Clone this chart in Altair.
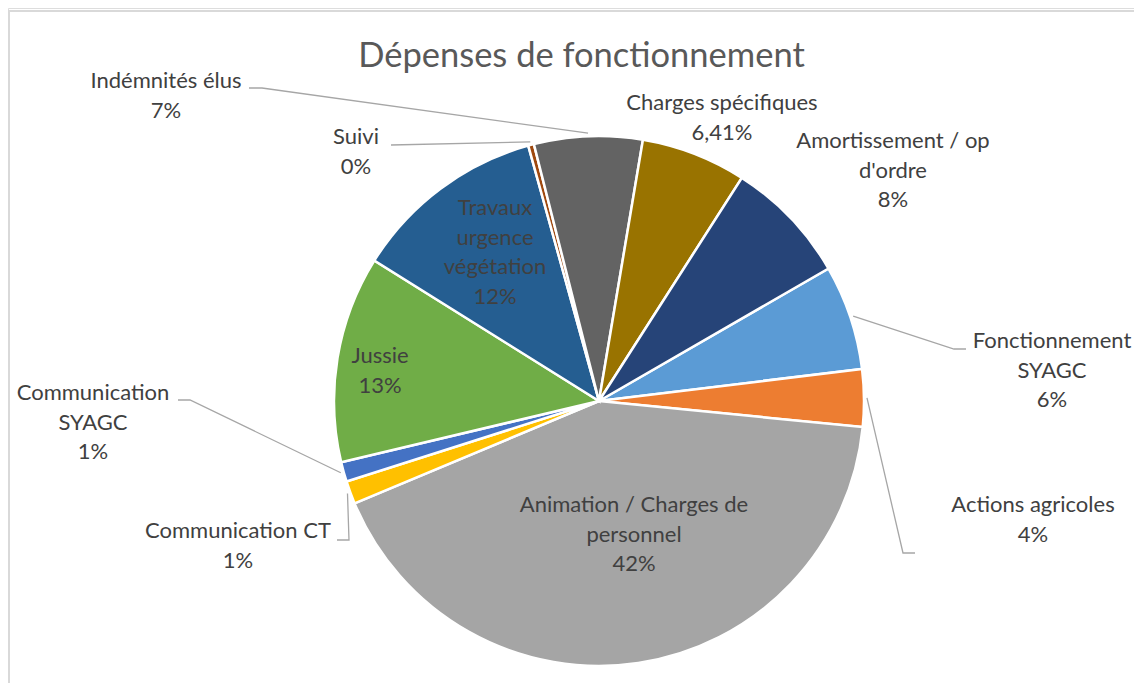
import math
import altair as alt
import pandas as pd

# ---- data (Excel order) ----
categories = ["Fonctionnement SYAGC", "Actions agricoles", "Animation / Charges de personnel",
              "Communication CT", "Communication SYAGC", "Jussie", "Travaux urgence végétation",
              "Suivi", "Indémnités élus", "Charges spécifiques", "Amortissement / op d'ordre"]
values = [6.4, 3.5, 42.1, 1.4, 1.2, 12.6, 11.8, 0.35, 6.6, 6.41, 7.6]
pct_labels = ["6%", "4%", "42%", "1%", "1%", "13%", "12%", "0%", "7%", "6,41%", "8%"]
wrapped = ["Fonctionnement\nSYAGC", "Actions agricoles", "Animation / Charges de\npersonnel",
           "Communication CT", "Communication\nSYAGC", "Jussie", "Travaux\nurgence\nvégétation",
           "Suivi", "Indémnités élus", "Charges spécifiques", "Amortissement / op\nd'ordre"]
colors = ["#5B9BD5", "#ED7D31", "#A5A5A5", "#FFC000", "#4472C4", "#70AD47",
          "#255E91", "#9E480E", "#636363", "#997300", "#264478"]

# ---- layout ----
W, H = 1126, 675
CX, CY, R = 591, 393, 265
START = math.radians(60)
FONT = "Lato"
TXT = "#404040"

# x centre and y of the first text line, per label
label_pos = {
    "Fonctionnement SYAGC": (1044, 333),
    "Actions agricoles": (1025, 497),
    "Animation / Charges de personnel": (626, 497),
    "Communication CT": (230, 523),
    "Communication SYAGC": (85, 385),
    "Jussie": (372, 348),
    "Travaux urgence végétation": (487, 200),
    "Suivi": (348, 129),
    "Indémnités élus": (158, 73),
    "Charges spécifiques": (714, 95),
    "Amortissement / op d'ordre": (885, 133),
}
leader_pts = {
    "Indémnités élus": [(241, 80), (254, 80)],
    "Suivi": [(383, 137)],
    "Fonctionnement SYAGC": [(958, 341), (946, 341)],
    "Actions agricoles": [(907, 545), (895, 545)],
    "Communication CT": [(329, 532), (341, 532)],
    "Communication SYAGC": [(170, 392), (182, 392)],
}

df = pd.DataFrame({"cat": categories, "value": values, "idx": range(len(values))})

total = sum(values)
lab_rows, line_rows = [], []
cum = 0.0
for i, (c, v) in enumerate(zip(categories, values)):
    mid = START + 2 * math.pi * (cum + v / 2) / total
    cum += v
    lx, ly = label_pos[c]
    lab_rows.append({"cat": c, "text": wrapped[i] + "\n" + pct_labels[i], "x": lx, "y": ly})
    if c in leader_pts:
        pts = leader_pts[c] + [(CX + (R + 3) * math.sin(mid), CY - (R + 3) * math.cos(mid))]
        for k, (px, py) in enumerate(pts):
            line_rows.append({"cat": c, "k": k, "x": px, "y": py})

labels_df = pd.DataFrame(lab_rows)
lines_df = pd.DataFrame(line_rows)

pie = alt.Chart(df).mark_arc(radius=R, stroke="white", strokeWidth=2.5).encode(
    theta=alt.Theta("value:Q", stack=True, scale=alt.Scale(range=[START, START + 2 * math.pi])),
    color=alt.Color("cat:N", scale=alt.Scale(domain=categories, range=colors), legend=None),
    order=alt.Order("idx:Q"),
    x=alt.value(CX),
    y=alt.value(CY),
)

leaders = alt.Chart(lines_df).mark_line(color="#A6A6A6", strokeWidth=1.3).encode(
    x=alt.X("x:Q", scale=None, axis=None),
    y=alt.Y("y:Q", scale=None, axis=None),
    detail="cat:N",
    order="k:Q",
)

texts = alt.Chart(labels_df).mark_text(
    font=FONT, fontSize=22, color=TXT, align="center", baseline="middle",
    lineBreak="\n", lineHeight=29.7,
).encode(
    x=alt.X("x:Q", scale=None, axis=None),
    y=alt.Y("y:Q", scale=None, axis=None),
    text="text:N",
)

title = alt.Chart(pd.DataFrame({"t": ["Dépenses de fonctionnement"]})).mark_text(
    font=FONT, fontSize=34.5, color="#595959", align="center", baseline="middle",
).encode(x=alt.value(573.5), y=alt.value(49), text="t:N")

frame_top = alt.Chart(pd.DataFrame({"a": [0]})).mark_rule(color="#D9D9D9", strokeWidth=2).encode(
    x=alt.value(0), x2=alt.value(W), y=alt.value(3))
frame_left = alt.Chart(pd.DataFrame({"a": [0]})).mark_rule(color="#D9D9D9", strokeWidth=2).encode(
    x=alt.value(1), y=alt.value(3), y2=alt.value(H))

chart = alt.layer(frame_top, frame_left, pie, leaders, texts, title).properties(
    width=W, height=H, padding=0, autosize=alt.AutoSizeParams(type="none"),
).configure_view(stroke=None).configure(background="white")

chart.save("out.html", embed_options={"renderer": "svg", "actions": False})
